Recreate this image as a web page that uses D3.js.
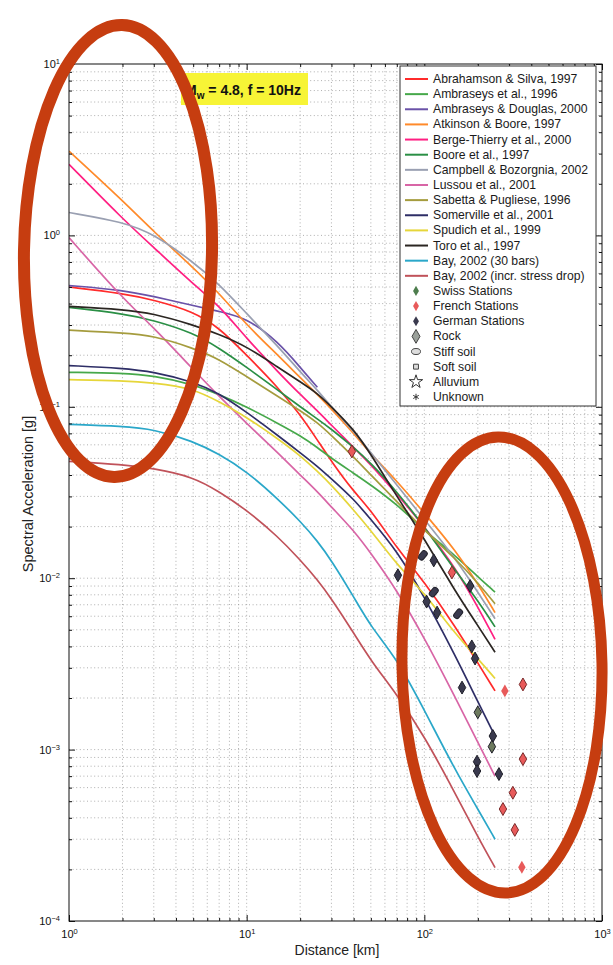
<!DOCTYPE html>
<html>
<head>
<meta charset="utf-8">
<script src="https://cdn.jsdelivr.net/npm/d3@7"></script>
<style>
  body { margin: 0; background: #fff; }
  svg { display: block; font-family: "Liberation Sans", Arial, sans-serif; }
</style>
</head>
<body>
<div id="chart"></div>
<script>
// ---- data ----
const distances = [1, 2, 3, 5, 7, 10, 15, 20, 25, 30, 40, 50, 70, 100, 150, 200, 250];

const abrahamsonSilva1997 = [0.50, 0.46, 0.42, 0.36, 0.29, 0.20, 0.13, 0.09, 0.064, 0.048, 0.032, 0.025, 0.015, 0.0095, 0.0052, 0.0032, 0.0022];
const ambraseys1996      = [0.159, 0.157, 0.152, 0.135, 0.118, 0.10, 0.08, 0.068, 0.058, 0.05, 0.041, 0.035, 0.027, 0.019, 0.0135, 0.0102, 0.0083];
const ambraseysDouglas2000 = [0.51, 0.48, 0.44, 0.39, 0.36, 0.33, 0.24, 0.17, 0.13, null, null, null, null, null, null, null, null];
const atkinsonBoore1997  = [3.1, 1.6, 1.05, 0.65, 0.46, 0.30, 0.20, 0.148, 0.118, 0.097, 0.07, 0.053, 0.037, 0.024, 0.0145, 0.0093, 0.0063];
const bergeThierry2000   = [2.6, 1.25, 0.85, 0.52, 0.39, 0.25, 0.16, 0.118, 0.095, 0.078, 0.058, 0.046, 0.031, 0.020, 0.0115, 0.0068, 0.0044];
const boore1997          = [0.38, 0.35, 0.32, 0.27, 0.22, 0.17, 0.125, 0.10, 0.085, 0.074, 0.058, 0.047, 0.032, 0.020, 0.011, 0.0074, 0.0052];
const campbellBozorgnia2002 = [1.36, 1.2, 1.02, 0.70, 0.52, 0.35, 0.225, 0.16, 0.125, 0.10, 0.072, 0.054, 0.035, 0.022, 0.013, 0.0083, 0.0058];
const lussou2001         = [0.97, 0.43, 0.29, 0.165, 0.115, 0.08, 0.054, 0.04, 0.032, 0.026, 0.019, 0.014, 0.0085, 0.0045, 0.002, 0.0011, 0.0007];
const sabettaPugliese1996 = [0.28, 0.27, 0.26, 0.22, 0.19, 0.15, 0.115, 0.095, 0.081, 0.068, 0.051, 0.04, 0.028, 0.019, 0.013, 0.0094, 0.0071];
const somerville2001     = [0.174, 0.168, 0.16, 0.14, 0.12, 0.093, 0.068, 0.054, 0.045, 0.038, 0.029, 0.022, 0.0145, 0.0078, 0.0035, 0.0019, 0.0012];
const spudich1999        = [0.144, 0.142, 0.138, 0.128, 0.107, 0.087, 0.065, 0.052, 0.042, 0.035, 0.025, 0.019, 0.012, 0.0082, 0.0047, 0.0034, 0.0026];
const toro1997           = [0.385, 0.37, 0.35, 0.30, 0.265, 0.225, 0.17, 0.14, 0.12, 0.10, 0.074, 0.053, 0.03, 0.017, 0.0083, 0.0053, 0.0037];
const bay30bars          = [0.079, 0.077, 0.074, 0.063, 0.053, 0.042, 0.029, 0.0215, 0.0165, 0.0127, 0.0078, 0.0052, 0.0034, 0.0017, 0.00075, 0.00045, 0.0003];
const bayIncrStress      = [0.048, 0.046, 0.0437, 0.039, 0.032, 0.025, 0.0175, 0.0128, 0.0098, 0.0076, 0.0048, 0.0033, 0.0021, 0.0012, 0.00055, 0.00031, 0.000205];

const modelNames = [
  "Abrahamson & Silva, 1997", "Ambraseys et al., 1996", "Ambraseys & Douglas, 2000",
  "Atkinson & Boore, 1997", "Berge-Thierry et al., 2000", "Boore et al., 1997",
  "Campbell & Bozorgnia, 2002", "Lussou et al., 2001", "Sabetta & Pugliese, 1996",
  "Somerville et al., 2001", "Spudich et al., 1999", "Toro et al., 1997",
  "Bay, 2002 (30 bars)", "Bay, 2002 (incr. stress drop)"
];
const modelValues = [
  abrahamsonSilva1997, ambraseys1996, ambraseysDouglas2000, atkinsonBoore1997,
  bergeThierry2000, boore1997, campbellBozorgnia2002, lussou2001, sabettaPugliese1996,
  somerville2001, spudich1999, toro1997, bay30bars, bayIncrStress
];

// stations
const stationDist    = [39.1, 98, 113, 143, 71, 181, 113, 103, 118, 155, 185, 193, 163, 284, 359, 200, 243, 240, 198, 198, 263, 359, 315, 277, 323, 354];
const stationAcc     = [0.0549, 0.0136, 0.0127, 0.0108, 0.0104, 0.0090, 0.0083, 0.0073, 0.0063, 0.0062, 0.0040, 0.0034, 0.0023, 0.0022, 0.0024, 0.00165, 0.0012, 0.00104, 0.00085, 0.00075, 0.00072, 0.00088, 0.00056, 0.00045, 0.00034, 0.000206];
const stationCountry = ["French", "German", "German", "French", "German", "German", "German", "German", "German", "German", "German", "German", "German", "French", "French", "Swiss", "German", "Swiss", "German", "German", "German", "French", "French", "French", "French", "French"];
const stationSoil    = ["Rock", "Stiff soil", "Rock", "Rock", "Rock", "Rock", "Stiff soil", "Rock", "Rock", "Stiff soil", "Rock", "Rock", "Rock", "Unknown", "Rock", "Rock", "Rock", "Rock", "Rock", "Rock", "Rock", "Rock", "Rock", "Rock", "Rock", "Unknown"];

const countryNames = ["Swiss Stations", "French Stations", "German Stations"];
const soilNames = ["Rock", "Stiff soil", "Soft soil", "Alluvium", "Unknown"];

const xMajor = [1, 10, 100, 1000];
const yMajor = [1e-4, 1e-3, 1e-2, 1e-1, 1, 10];

// ---- styles ----
const modelColors = ["#ff2b2b", "#46a84a", "#6a52a8", "#ff8a2a", "#ff1f82", "#2a8f45", "#9aa0b2",
  "#d865a6", "#a59c3e", "#2e2e66", "#e6d63a", "#2b2622", "#2aa7c9", "#c0525a"];
const countryColors = { Swiss: "#6d7a5e", French: "#e85a5a", German: "#3a3a4e" };

const W = 613, H = 965;
const plot = { left: 69, top: 64, right: 602, bottom: 921 };

const svg = d3.select("#chart").append("svg").attr("width", W).attr("height", H);

const x = d3.scaleLog().domain([1, 1000]).range([plot.left, plot.right]);
const y = d3.scaleLog().domain([1e-4, 10]).range([plot.bottom, plot.top]);

const minorOf = majors => majors.slice(0, -1).flatMap(m => d3.range(2, 10).map(k => k * m));
const xMinor = minorOf(xMajor);
const yMinor = minorOf(yMajor);

// grid
const grid = svg.append("g").attr("stroke", "#9a9a9a").attr("stroke-width", 0.8).attr("stroke-dasharray", "1,2.6");
grid.selectAll("line.v").data(xMinor.concat(xMajor.slice(1, -1))).join("line")
  .attr("x1", d => x(d)).attr("x2", d => x(d)).attr("y1", plot.top).attr("y2", plot.bottom);
grid.selectAll("line.h").data(yMinor.concat(yMajor.slice(1, -1))).join("line")
  .attr("y1", d => y(d)).attr("y2", d => y(d)).attr("x1", plot.left).attr("x2", plot.right);

// clip
svg.append("clipPath").attr("id", "clip").append("rect")
  .attr("x", plot.left).attr("y", plot.top).attr("width", plot.right - plot.left).attr("height", plot.bottom - plot.top);

// curves
const line = d3.line()
  .defined(d => d[1] != null)
  .x(d => x(d[0])).y(d => y(d[1]))
  .curve(d3.curveBasis);

svg.append("g").attr("clip-path", "url(#clip)")
  .selectAll("path").data(modelValues).join("path")
  .attr("d", vals => line(distances.map((d, i) => [d, vals[i]])))
  .attr("fill", "none")
  .attr("stroke", (d, i) => modelColors[i])
  .attr("stroke-width", 1.7)
  .attr("stroke-linejoin", "round");

// station markers
function drawMarker(g, soil, fill, edge) {
  if (soil === "Stiff soil") {
    g.append("rect").attr("x", -3).attr("y", -5).attr("width", 6).attr("height", 10).attr("rx", 2.5)
      .attr("transform", "rotate(40)").attr("fill", fill).attr("stroke", edge).attr("stroke-width", 1);
  } else if (soil === "Soft soil") {
    g.append("path").attr("d", d3.symbol(d3.symbolSquare, 30)()).attr("fill", fill).attr("stroke", edge);
  } else if (soil === "Alluvium") {
    g.append("path").attr("d", d3.symbol(d3.symbolStar, 45)()).attr("fill", fill).attr("stroke", edge);
  } else if (soil === "Unknown") {
    g.append("path").attr("d", d3.symbol(d3.symbolDiamond, 48)()).attr("fill", fill).attr("stroke", "none");
  } else {
    g.append("path").attr("d", d3.symbol(d3.symbolDiamond, 48)()).attr("fill", fill).attr("stroke", edge).attr("stroke-width", 1);
  }
}

const stations = svg.append("g");
stationDist.forEach((d, i) => {
  const c = stationCountry[i];
  const g = stations.append("g").attr("transform", `translate(${x(d)},${y(stationAcc[i])})`);
  const edge = c === "French" ? "#7a2a2a" : "#1e1e28";
  drawMarker(g, stationSoil[i], countryColors[c], edge);
});

// axes: major + minor, inward ticks on all four sides
function supLabel(sel) {
  sel.selectAll(".tick text").each(function (d) {
    const e = Math.round(Math.log10(d));
    const t = d3.select(this).text("10");
    t.append("tspan").attr("dy", "-0.55em").attr("font-size", "7.5px").text(e < 0 ? "\u2212" + (-e) : e);
  });
}
function styleAxis(g) {
  g.select(".domain").remove();
  g.selectAll(".tick line").attr("stroke", "#111");
  g.selectAll(".tick text").attr("fill", "#111").attr("font-size", "11px").attr("font-family", "Liberation Sans, Arial, sans-serif");
}

const axB = svg.append("g").attr("transform", `translate(0,${plot.bottom})`)
  .call(d3.axisBottom(x).tickValues(xMajor).tickSize(-6).tickPadding(9).tickFormat(() => ""));
axB.call(styleAxis); axB.selectAll(".tick text").text(d => d); supLabel(axB);
svg.append("g").attr("transform", `translate(0,${plot.bottom})`)
  .call(d3.axisBottom(x).tickValues(xMinor).tickSize(-3).tickFormat("")).call(styleAxis);
svg.append("g").attr("transform", `translate(0,${plot.top})`)
  .call(d3.axisTop(x).tickValues(xMajor).tickSize(-6).tickFormat("")).call(styleAxis);
svg.append("g").attr("transform", `translate(0,${plot.top})`)
  .call(d3.axisTop(x).tickValues(xMinor).tickSize(-3).tickFormat("")).call(styleAxis);

const axL = svg.append("g").attr("transform", `translate(${plot.left},0)`)
  .call(d3.axisLeft(y).tickValues(yMajor).tickSize(-6).tickPadding(9).tickFormat(() => ""));
axL.call(styleAxis); axL.selectAll(".tick text").text(d => d); supLabel(axL);
svg.append("g").attr("transform", `translate(${plot.left},0)`)
  .call(d3.axisLeft(y).tickValues(yMinor).tickSize(-3).tickFormat("")).call(styleAxis);
svg.append("g").attr("transform", `translate(${plot.right},0)`)
  .call(d3.axisRight(y).tickValues(yMajor).tickSize(-6).tickFormat("")).call(styleAxis);
svg.append("g").attr("transform", `translate(${plot.right},0)`)
  .call(d3.axisRight(y).tickValues(yMinor).tickSize(-3).tickFormat("")).call(styleAxis);

// frame
svg.append("rect").attr("x", plot.left).attr("y", plot.top)
  .attr("width", plot.right - plot.left).attr("height", plot.bottom - plot.top)
  .attr("fill", "none").attr("stroke", "#111").attr("stroke-width", 1);

// axis titles
svg.append("text").attr("x", 337).attr("y", 955).attr("text-anchor", "middle")
  .attr("font-size", "14px").attr("fill", "#222").text("Distance [km]");
svg.append("text").attr("transform", "translate(33,494) rotate(-90)").attr("text-anchor", "middle")
  .attr("font-size", "14.5px").attr("fill", "#222").text("Spectral Acceleration [g]");

// legend
const lg = svg.append("g");
const lgBox = { x: 400, y: 66, w: 196, h: 340 };
lg.append("rect").attr("x", lgBox.x).attr("y", lgBox.y).attr("width", lgBox.w).attr("height", lgBox.h)
  .attr("fill", "#fff").attr("stroke", "#333").attr("stroke-width", 1);
const rowY = i => 79 + i * 15.14;
const lgText = (i, s) => lg.append("text").attr("x", 433).attr("y", rowY(i) + 4)
  .attr("font-size", "12.2px").attr("fill", "#1a1a1a").text(s);

modelNames.forEach((n, i) => {
  lg.append("line").attr("x1", 405).attr("x2", 428).attr("y1", rowY(i)).attr("y2", rowY(i))
    .attr("stroke", modelColors[i]).attr("stroke-width", 2);
  lgText(i, n);
});
const countryKeys = ["Swiss", "French", "German"];
countryNames.forEach((n, j) => {
  const i = modelNames.length + j;
  const g = lg.append("g").attr("transform", `translate(416,${rowY(i)})`);
  g.append("path").attr("d", d3.symbol(d3.symbolDiamond, 30)()).attr("fill", j === 0 ? "#4d7d4d" : countryColors[countryKeys[j]]);
  lgText(i, n);
});
soilNames.forEach((n, j) => {
  const i = modelNames.length + countryNames.length + j;
  const g = lg.append("g").attr("transform", `translate(416,${rowY(i)})`);
  if (n === "Rock") g.append("path").attr("d", d3.symbol(d3.symbolDiamond, 55)()).attr("fill", "#9aa09a").attr("stroke", "#444");
  else if (n === "Stiff soil") g.append("ellipse").attr("rx", 4.5).attr("ry", 3).attr("fill", "#ddd").attr("stroke", "#444");
  else if (n === "Soft soil") g.append("path").attr("d", d3.symbol(d3.symbolSquare, 24)()).attr("fill", "#ddd").attr("stroke", "#444");
  else if (n === "Alluvium") g.append("path").attr("d", d3.symbol(d3.symbolStar, 55)()).attr("fill", "none").attr("stroke", "#333");
  else g.append("path").attr("d", d3.symbol(d3.symbolAsterisk || d3.symbolCross, 28)()).attr("fill", "#333").attr("stroke", "#333");
  lgText(i, n);
});

// title badge
const tb = svg.append("g");
tb.append("rect").attr("x", 181).attr("y", 73).attr("width", 127).attr("height", 32).attr("fill", "#f7f436");
const tt = tb.append("text").attr("x", 185).attr("y", 95).attr("font-size", "14px").attr("font-weight", "bold").attr("fill", "#111");
tt.append("tspan").text("M");
tt.append("tspan").attr("dy", "4").attr("font-size", "10px").text("w");
tt.append("tspan").attr("dy", "-4").text(" = 4.8, f = 10Hz");

// hand-drawn highlight ellipses
const ring = "#c63d10";
svg.append("ellipse").attr("cx", 0).attr("cy", 0).attr("rx", 94).attr("ry", 226)
  .attr("transform", "translate(118,251) rotate(1)")
  .attr("fill", "none").attr("stroke", ring).attr("stroke-width", 12);
svg.append("ellipse").attr("cx", 0).attr("cy", 0).attr("rx", 100).attr("ry", 228)
  .attr("transform", "translate(502,665) rotate(-1)")
  .attr("fill", "none").attr("stroke", ring).attr("stroke-width", 11);
</script>
</body>
</html>
